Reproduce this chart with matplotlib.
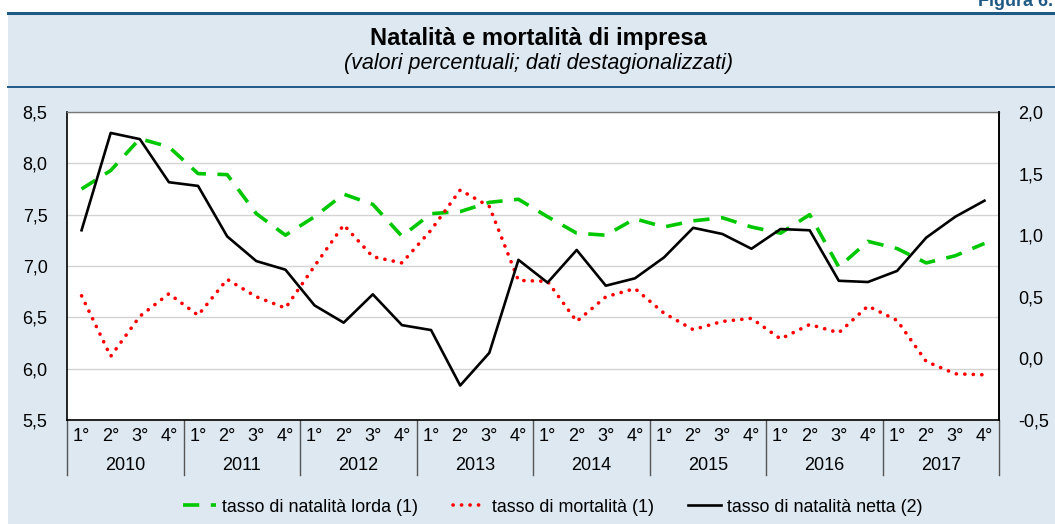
import matplotlib
matplotlib.use("Agg")
from matplotlib import pyplot as plt
from matplotlib.lines import Line2D
from matplotlib.patches import Rectangle
import matplotlib.transforms as mtransforms
import numpy as np

plt.rcParams['font.family'] = ['Liberation Sans', 'DejaVu Sans']

years = ['2010', '2011', '2012', '2013', '2014', '2015', '2016', '2017']
quarters = ['1°', '2°', '3°', '4°']

# tasso di natalità lorda (asse sinistro)
lorda = [7.75, 7.93, 8.24, 8.16, 7.90, 7.89, 7.51, 7.30,
         7.48, 7.70, 7.60, 7.29, 7.51, 7.53, 7.62, 7.65,
         7.48, 7.32, 7.30, 7.46, 7.38, 7.44, 7.47, 7.38,
         7.32, 7.50, 6.99, 7.24, 7.17, 7.03, 7.10, 7.22]
# tasso di mortalità (asse sinistro)
mortalita = [6.71, 6.12, 6.51, 6.73, 6.52, 6.87, 6.70, 6.59,
             7.00, 7.40, 7.09, 7.03, 7.35, 7.74, 7.58, 6.86,
             6.85, 6.46, 6.70, 6.78, 6.54, 6.38, 6.46, 6.49,
             6.29, 6.43, 6.35, 6.61, 6.47, 6.07, 5.95, 5.94]
# tasso di natalità netta (asse destro)
netta = [1.04, 1.83, 1.78, 1.43, 1.40, 0.99, 0.79, 0.72,
         0.43, 0.29, 0.52, 0.27, 0.23, -0.22, 0.045, 0.80,
         0.615, 0.88, 0.59, 0.65, 0.82, 1.06, 1.01, 0.89,
         1.05, 1.04, 0.63, 0.62, 0.71, 0.98, 1.15, 1.28]

left_ticks = [5.5, 6.0, 6.5, 7.0, 7.5, 8.0, 8.5]
right_ticks = [-0.5, 0.0, 0.5, 1.0, 1.5, 2.0]

bg = '#dde8f1'
navy = '#1f5a85'

W, H = 1055, 524
fig = plt.figure(figsize=(W / 100, H / 100), dpi=100)
fig.patch.set_facecolor('white')

# light blue panel and rules
fig.patches.append(Rectangle((8 / W, 0), 1 - 8 / W, 1 - 12 / H, transform=fig.transFigure,
                             facecolor=bg, edgecolor='none', zorder=-5))
fig.add_artist(Line2D([8 / W, 1], [1 - 13 / H] * 2, color=navy, lw=2.2))
fig.add_artist(Line2D([8 / W, 1], [1 - 87 / H] * 2, color=navy, lw=1.4))

fig.text(1053 / W, 1 - 1 / H, 'Figura 6.', ha='right', va='center', fontsize=13,
         fontweight='bold', color=navy)
fig.text(538 / W, 1 - 38 / H, 'Natalità e mortalità di impresa', ha='center', va='center',
         fontsize=17, fontweight='bold')
fig.text(538 / W, 1 - 64 / H, '(valori percentuali; dati destagionalizzati)', ha='center',
         va='center', fontsize=15.5, style='italic')

ax = fig.add_axes([67 / W, 1 - 420 / H, (999 - 67) / W, (420 - 112) / H])
ax.set_facecolor('white')
n = len(lorda)
x = np.arange(n) + 0.5

ax.plot(x, lorda, color='#00c800', lw=2.6, linestyle=(0, (4.5, 3.2)), zorder=3)
ax.plot(x, mortalita, color='#ff0000', lw=2.6, linestyle=(0, (0.05, 2.3)),
        dash_capstyle='round', zorder=3)
ax.set_xlim(0, n)
ax.set_ylim(5.5, 8.5)
ax.set_yticks(left_ticks)
ax.set_yticklabels([f'{t:.1f}'.replace('.', ',') for t in left_ticks])
ax.yaxis.grid(True, color='#d3d3d3', lw=1.0)
ax.set_axisbelow(True)
ax.tick_params(axis='y', length=0, labelsize=13, pad=14)

ax.set_xticks(x)
ax.set_xticklabels(quarters * len(years))
ax.tick_params(axis='x', length=0, labelsize=13, pad=6)

for s in ['left', 'bottom']:
    ax.spines[s].set_color('black')
    ax.spines[s].set_linewidth(1.2)
ax.spines['top'].set_color('#777777')
ax.spines['top'].set_linewidth(1.0)
ax.spines['right'].set_color('black')
ax.spines['right'].set_linewidth(1.2)

ax2 = ax.twinx()
ax2.plot(x, netta, color='black', lw=1.9, zorder=3)
ax2.set_ylim(-0.5, 2.0)
ax2.set_yticks(right_ticks)
ax2.set_yticklabels([f'{t:.1f}'.replace('.', ',') for t in right_ticks])
ax2.tick_params(axis='y', length=0, labelsize=13, pad=14)
for s in ['left', 'top', 'bottom']:
    ax2.spines[s].set_visible(False)
ax2.spines['right'].set_color('black')
ax2.spines['right'].set_linewidth(1.2)

# year labels and separators below the axis
trans = mtransforms.blended_transform_factory(ax.transData, ax.transAxes)
sep_bottom = -55 / (420 - 112)
for i, yr in enumerate(years):
    ax.text(i * 4 + 2, -45 / (420 - 112), yr, transform=trans, ha='center', va='center',
            fontsize=13)
for i in range(len(years) + 1):
    ax.add_artist(Line2D([i * 4, i * 4], [0, sep_bottom], transform=trans, color='#555555',
                         lw=1.0, clip_on=False))

handles = [Line2D([], [], color='#00c800', lw=2.6, linestyle=(0, (4.5, 3.2))),
           Line2D([], [], color='#ff0000', lw=2.6, linestyle=(0, (0.05, 2.3)),
                  dash_capstyle='round'),
           Line2D([], [], color='black', lw=1.9)]
labels = ['tasso di natalità lorda (1)', 'tasso di mortalità (1)',
          'tasso di natalità netta (2)']
fig.legend(handles, labels, loc='center', bbox_to_anchor=(553 / W, 1 - 507 / H), ncol=3,
           frameon=False, fontsize=12.9, handlelength=1.85, handletextpad=0.35,
           columnspacing=1.9)

fig.savefig('out.png', dpi=100, facecolor=fig.get_facecolor())
